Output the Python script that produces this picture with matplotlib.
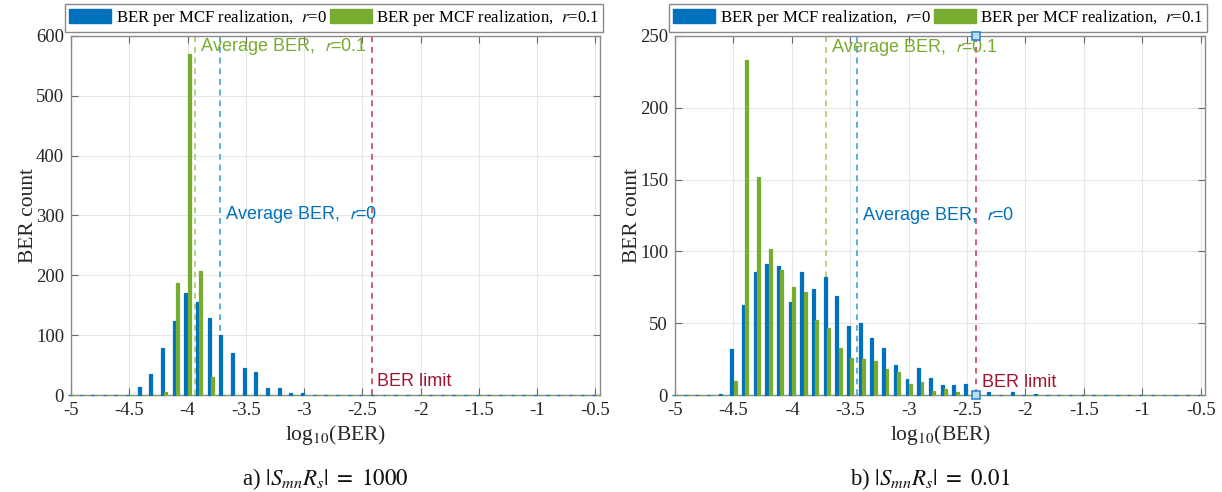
import matplotlib
matplotlib.use("Agg")
import matplotlib.pyplot as plt
from matplotlib.patches import Patch
import numpy as np

plt.rcParams['font.family'] = ['Liberation Serif', 'DejaVu Serif']
plt.rcParams['mathtext.fontset'] = 'stix'

# histogram bin centres, log10(BER)
bins = np.round(np.arange(-5.0, -0.45, 0.1), 2)

# counts per bin, |SmnRs| = 1000
counts_a = {
    'r0': {-4.4: 14, -4.3: 35, -4.2: 78, -4.1: 124, -4.0: 170, -3.9: 156,
           -3.8: 129, -3.7: 100, -3.6: 71, -3.5: 45, -3.4: 38, -3.3: 12,
           -3.2: 12, -3.1: 4, -3.0: 3},
    'r01': {-4.2: 5, -4.1: 188, -4.0: 570, -3.9: 207, -3.8: 30},
}
# counts per bin, |SmnRs| = 0.01
counts_b = {
    'r0': {-4.6: 1, -4.5: 32, -4.4: 63, -4.3: 86, -4.2: 91, -4.1: 90,
           -4.0: 65, -3.9: 86, -3.8: 74, -3.7: 82, -3.6: 69, -3.5: 48,
           -3.4: 50, -3.3: 40, -3.2: 33, -3.1: 21, -3.0: 11, -2.9: 19,
           -2.8: 12, -2.7: 7, -2.6: 7, -2.5: 8, -2.4: 1, -2.3: 2,
           -2.1: 2, -1.9: 1},
    'r01': {-4.5: 10, -4.4: 233, -4.3: 152, -4.2: 102, -4.1: 87, -4.0: 75,
            -3.9: 72, -3.8: 52, -3.7: 47, -3.6: 33, -3.5: 26, -3.4: 25,
            -3.3: 24, -3.2: 18, -3.1: 16, -3.0: 8, -2.9: 9, -2.8: 3,
            -2.7: 4, -2.6: 2},
}

avg_a = {'r0': -3.72, 'r01': -3.935}
avg_b = {'r0': -3.445, 'r01': -3.71}
ber_limit = np.log10(3.8e-3)

blue = '#0072BD'
green = '#77AC30'
red = '#A2142F'
blue_l = '#5DAEE3'
green_l = '#AFD482'
red_l = '#D0607A'


def to_array(d):
    return np.array([d.get(b, 0) for b in bins])


def panel(ax, counts, avg, ymax, yticks, txt_pos, markers, caption):
    w = 0.025
    ax.bar(bins - 0.0143, to_array(counts['r0']), width=w, color=blue,
           edgecolor=blue, linewidth=0.9, zorder=3, clip_on=False)
    ax.bar(bins + 0.0143, to_array(counts['r01']), width=w, color=green,
           edgecolor=green, linewidth=0.9, zorder=3, clip_on=False)

    ax.axvline(avg['r01'], color=green_l, ls=(0, (3, 2.5)), lw=1.4, zorder=2)
    ax.axvline(avg['r0'], color=blue_l, ls=(0, (3, 2.5)), lw=1.4, zorder=2)
    ax.axvline(ber_limit, color=red_l, ls=(0, (3, 2.5)), lw=1.4, zorder=2)

    tp = txt_pos
    ax.text(avg['r01'] + 0.045, tp[0], 'Average BER,  $r$=0.1', color=green,
            fontsize=13, family='Liberation Sans', va='center',
            math_fontfamily='stixsans', zorder=5)
    ax.text(avg['r0'] + 0.045, tp[1], 'Average BER,  $r$=0', color=blue,
            fontsize=13, family='Liberation Sans', va='center',
            math_fontfamily='stixsans', zorder=5)
    ax.text(ber_limit + 0.045, tp[2], 'BER limit', color=red,
            fontsize=13, family='Liberation Sans', va='center', zorder=5)

    if markers:
        ax.plot([ber_limit, ber_limit], [0, ymax], ls='none', marker='s',
                ms=6, mfc='#BFDDF2', mec='#2F88C8', mew=1.2, clip_on=False,
                zorder=6)

    ax.set_xlim(-5.0, -0.46)
    ax.set_ylim(0, ymax)
    ax.set_xticks([-5, -4.5, -4, -3.5, -3, -2.5, -2, -1.5, -1, -0.5])
    ax.set_xticklabels(['-5', '-4.5', '-4', '-3.5', '-3', '-2.5', '-2',
                        '-1.5', '-1', '-0.5'])
    ax.set_yticks(yticks)
    ax.grid(True, color='#E6E6E6', lw=0.8, zorder=0)
    ax.set_axisbelow(True)
    ax.tick_params(direction='in', top=True, right=True, length=5,
                   width=0.8, color='#666666', labelsize=13.5,
                   labelcolor='#262626', pad=5)
    for s in ax.spines.values():
        s.set_color('#8A8A8A')
        s.set_linewidth(1.0)
    ax.set_xlabel('log$_{10}$(BER)', fontsize=15.5, color='#262626', labelpad=3)
    ax.set_ylabel('BER count', fontsize=15.5, color='#262626')
    ax.yaxis.set_label_coords(-0.062, 0.5)

    handles = [Patch(facecolor=blue, edgecolor=blue),
               Patch(facecolor=green, edgecolor=green)]
    leg = ax.legend(handles, ['BER per MCF realization,  $r$=0',
                              'BER per MCF realization,  $r$=0.1'],
                    loc='lower left', bbox_to_anchor=(-0.011, 1.011),
                    ncol=2, fancybox=False, edgecolor='#8A8A8A',
                    fontsize=12.1, handlelength=2.5, handleheight=0.9,
                    handletextpad=0.25, columnspacing=0.2, borderpad=0.25,
                    borderaxespad=0, framealpha=1)
    leg.get_frame().set_linewidth(1.0)

    ax.text(0.48, -0.235, caption, transform=ax.transAxes, ha='center',
            va='center', fontsize=16.5, color='#111111')


fig = plt.figure(figsize=(12.22, 4.92), dpi=100)
ax1 = fig.add_axes([0.0581, 0.197, 0.433, 0.730])
ax2 = fig.add_axes([0.5524, 0.197, 0.434, 0.730])

panel(ax1, counts_a, avg_a, 600, range(0, 601, 100), (582, 301, 22), False,
      'a) $|S_{mn}R_s|\\ =\\ 1000$')
panel(ax2, counts_b, avg_b, 250, range(0, 251, 50), (242, 125, 9), True,
      'b) $|S_{mn}R_s|\\ =\\ 0.01$')

fig.savefig('out.png', dpi=100)
